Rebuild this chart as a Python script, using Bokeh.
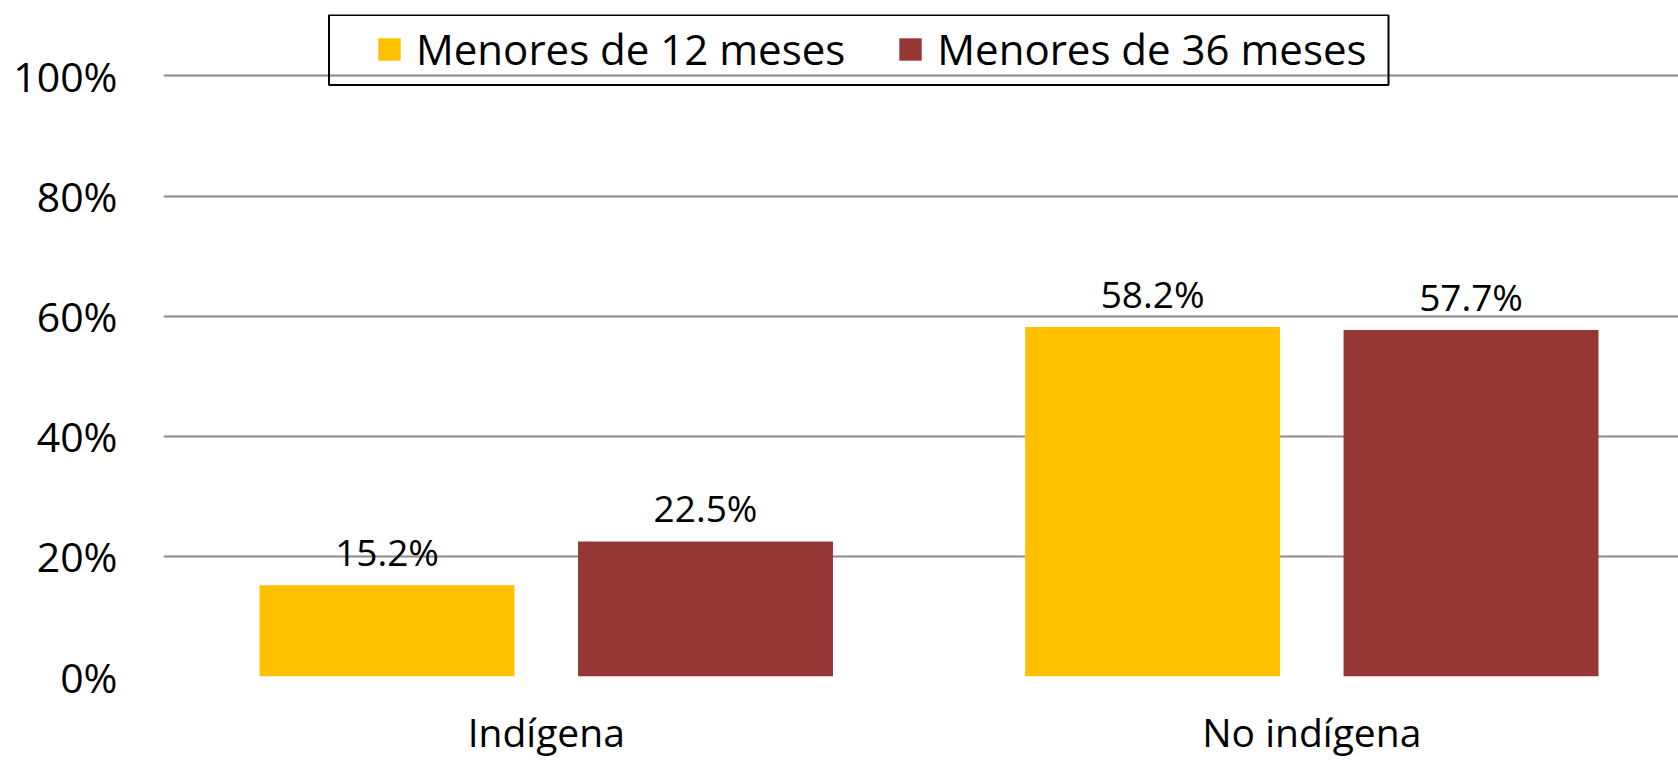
from bokeh.plotting import figure
from bokeh.models import ColumnDataSource, Range1d, FixedTicker, PrintfTickFormatter, BoxAnnotation
from bokeh.transform import dodge
from bokeh.core.properties import value
from bokeh.embed import file_html
from bokeh.resources import INLINE

# ---- data ----
categories = ["Indígena", "No indígena"]
series_names = ["Menores de 12 meses", "Menores de 36 meses"]
menores_12 = [15.2, 58.2]
menores_36 = [22.5, 57.7]
y_ticks = [0, 20, 40, 60, 80, 100]

# ---- style ----
FONT = "Open Sans"
YELLOW = "#FFC000"
RED = "#953735"
OFF = 0.208
BAR_W = 0.333

src = ColumnDataSource(dict(
    x=list(range(len(categories))),
    m12=menores_12,
    m36=menores_36,
    l12=[f"{v:.1f}%" for v in menores_12],
    l36=[f"{v:.1f}%" for v in menores_36],
))

W, H = 1678, 760
p = figure(width=W, height=H, output_backend="svg", toolbar_location=None,
           x_range=Range1d(-0.5, 1.479), y_range=Range1d(0, 110.24),
           min_border_left=163, min_border_right=0, min_border_top=14,
           min_border_bottom=84)
p.outline_line_color = None
p.background_fill_color = "white"
p.border_fill_color = "white"

p.vbar(x=dodge("x", -OFF, range=p.x_range), top="m12", width=BAR_W, source=src,
       fill_color=YELLOW, line_color=None, legend_label=series_names[0])
p.vbar(x=dodge("x", OFF, range=p.x_range), top="m36", width=BAR_W, source=src,
       fill_color=RED, line_color=None, legend_label=series_names[1])

for col, lab, off in (("m12", "l12", -OFF), ("m36", "l36", OFF)):
    p.text(x=dodge("x", off, range=p.x_range), y=col, text=lab, source=src,
           text_font=value(FONT), text_font_size="37px", text_color="black",
           text_align="center", text_baseline="alphabetic", y_offset=-34)

# axes
p.xaxis.ticker = FixedTicker(ticks=list(range(len(categories))))
p.xaxis.major_label_overrides = {i: c for i, c in enumerate(categories)}
p.yaxis.ticker = FixedTicker(ticks=y_ticks)
p.yaxis.formatter = PrintfTickFormatter(format="%d%%")
for ax in (p.xaxis[0], p.yaxis[0]):
    ax.axis_line_color = None
    ax.major_tick_line_color = None
    ax.minor_tick_line_color = None
    ax.major_tick_in = 0
    ax.major_tick_out = 0
    ax.major_label_text_font = FONT
    ax.major_label_text_color = "black"
p.xaxis.major_label_text_font_size = "39px"
p.xaxis.major_label_standoff = 28
p.yaxis.major_label_text_font_size = "41px"
p.yaxis.major_label_standoff = 46

p.xgrid.visible = False
p.ygrid.grid_line_color = "#898989"
p.ygrid.grid_line_width = 2

# legend
leg = p.legend[0]
leg.orientation = "horizontal"
leg.location = (212, 598.75)
leg.padding = 0
leg.margin = 0
leg.spacing = 51
leg.label_standoff = 13
leg.glyph_width = 28
leg.glyph_height = 28
leg.label_text_font = FONT
leg.label_text_font_size = "42px"
leg.label_text_color = "black"
leg.border_line_alpha = 0
leg.background_fill_alpha = 0

box = BoxAnnotation(left=165.5, right=1225, top=661.5, bottom=591.5,
                    left_units="screen", right_units="screen",
                    top_units="screen", bottom_units="screen",
                    fill_alpha=0, line_color="black", line_alpha=1.0,
                    line_width=2)
p.add_layout(box)

open("out.html", "w").write(file_html(p, INLINE))
